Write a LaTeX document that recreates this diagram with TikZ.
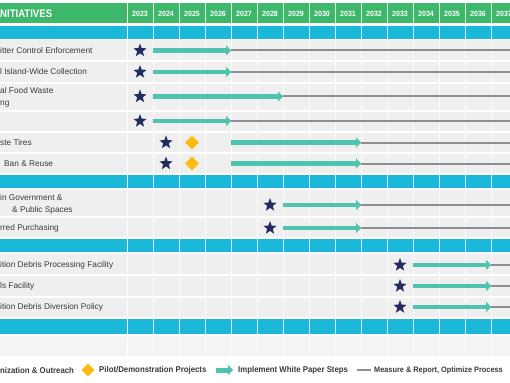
\documentclass[tikz,border=0pt]{standalone}
\usepackage{fontspec}
\setmainfont{Liberation Sans}
\newfontfamily\condfont[FakeStretch=0.87]{Liberation Sans}
\newfontfamily\narrowfont[FakeStretch=0.93]{Liberation Sans}
\usepackage{tikz}
\usetikzlibrary{shapes.geometric, arrows.meta, positioning, calc}
\definecolor{hdrgreen}{HTML}{3DB86B}
\definecolor{bandcyan}{HTML}{1CB8DA}
\definecolor{rowgray}{HTML}{EFEFEF}
\definecolor{lastgray}{HTML}{F4F4F4}
\definecolor{stepteal}{HTML}{4EC3AE}
\definecolor{starnavy}{HTML}{242B5E}
\definecolor{pilotgold}{HTML}{FDBB12}
\definecolor{measuregray}{HTML}{8E8E90}
\definecolor{labelgray}{HTML}{3A3A3A}

\begin{document}
\begin{tikzpicture}[
                x=1pt, y=-1pt,
                milestone/.style={star, star points=5, star point ratio=2.4, fill=starnavy, minimum size=14pt, inner sep=0pt},
                pilot/.style={diamond, fill=pilotgold, minimum size=14pt, inner sep=0pt},
                implement/.style={draw=stepteal, line width=4.5pt, -{Triangle[length=5pt, width=10pt]}},
                measure/.style={draw=measuregray, line width=2pt},
                initiative/.style={anchor=west, inner sep=0pt, align=left, text=labelgray, font=\fontsize{8.3}{12}\selectfont},
                year/.style={text=white, font=\narrowfont\bfseries\fontsize{7.6}{9}\selectfont},
                heading/.style={anchor=west, inner sep=0pt, text=white, font=\condfont\bfseries\fontsize{11}{12}\selectfont},
                legendtext/.style={anchor=west, inner sep=0pt, text=labelgray, font=\narrowfont\bfseries\fontsize{8.4}{10}\selectfont}
            ]%
            \useasboundingbox (0,0) rectangle (510,382);
            %
            % Fondo y bandas
            \fill[white] (0,0) rectangle (510,382);
            \fill[hdrgreen] (0,3) rectangle (510,23);
            \fill[rowgray] (0,39) rectangle (510,174);
            \fill[rowgray] (0,189) rectangle (510,238);
            \fill[rowgray] (0,253) rectangle (510,318);
            \fill[lastgray] (0,335) rectangle (510,356);
            \foreach \ya/\yb in {26/39, 174/189, 238/253, 318/335}
                \fill[bandcyan] (0,\ya) rectangle (510,\yb);
            %
            % Rejilla
            \foreach \yy in {39.5, 61, 83, 111, 132, 153, 174, 189, 217, 238, 253, 275, 297, 318, 335}
                \draw[white, line width=1.2pt] (0,\yy) -- (510,\yy);
            \draw[white, line width=1pt] (127,3) -- (127,356);
            \foreach \xx in {153,179,...,491}
                \draw[white, line width=0.9pt, opacity=0.8] (\xx,3) -- (\xx,356);
            %
            % Encabezado
            \node[heading] (title) at (0,13.5) {NITIATIVES};
            \foreach \yr [count=\i from 0] in {2023,2024,...,2037}
                \node[year] (y\yr) at (140+26*\i,13.5) {\yr};
            %
            % Iniciativas
            \node[initiative] (ini1) at (0,50.5) {itter Control Enforcement};
            \node[initiative] (ini2) at (0,72) {l Island-Wide Collection};
            \node[initiative] (ini3) at (0,97) {al Food Waste\\ng};
            \node[initiative] (ini5) at (0,142.5) {ste Tires};
            \node[initiative] (ini6) at (4,163.5) {Ban \& Reuse};
            \node[initiative] (ini7) at (0,204.5) {in Government \&\\\hspace*{12pt}\& Public Spaces};
            \node[initiative] (ini8) at (0,228) {rred Purchasing};
            \node[initiative] (ini9) at (0,265) {ition Debris Processing Facility};
            \node[initiative] (ini10) at (0,286) {ls Facility};
            \node[initiative] (ini11) at (0,307) {ition Debris Diversion Policy};
            %
            % Hitos y flechas
            \foreach \r/\yy/\sx/\ax/\tx in {1/50.5/140/153/231, 2/72/140/153/231, 3/96.5/140/153/283, 4/121/140/153/231,
                                           5/142.5/166/231/361, 6/163.5/166/231/361,
                                           7/205/270/283/361, 8/228/270/283/361,
                                           9/265/400/413/491, 10/286/400/413/491, 11/307/400/413/491}{
                \node[milestone] (st\r) at (\sx,\yy) {};
                \coordinate (ar\r) at (\ax,\yy);
                \coordinate (tp\r) at (\tx,\yy);
                \coordinate (en\r) at (512,\yy);
                \draw[measure] (tp\r) -- (en\r);
                \draw[implement] (ar\r) -- (tp\r);
            }
            \node[pilot] (pi5) at (192,142.5) {};
            \node[pilot] (pi6) at (192,163.5) {};
            %
            % === LEYENDA ===
            \node[legendtext] (lgout) at (0,370) {nization \& Outreach};
            \node[pilot, minimum size=13pt] (lgpilot) at (88,370) {};
            \node[legendtext] (lgpilottxt) at (99,370) {Pilot/Demonstration Projects};
            \coordinate (lgarra) at (216,370);
            \coordinate (lgarrb) at (233,370);
            \draw[implement, line width=5pt] (lgarra) -- (lgarrb);
            \node[legendtext] (lgimpl) at (238,370) {Implement White Paper Steps};
            \coordinate (lgmsa) at (357,370);
            \coordinate (lgmsb) at (371,370);
            \draw[measure] (lgmsa) -- (lgmsb);
            \node[legendtext, font=\narrowfont\bfseries\fontsize{7.9}{10}\selectfont] (lgmeas) at (374,370) {Measure \& Report, Optimize Process};
        \end{tikzpicture}
\end{document}
